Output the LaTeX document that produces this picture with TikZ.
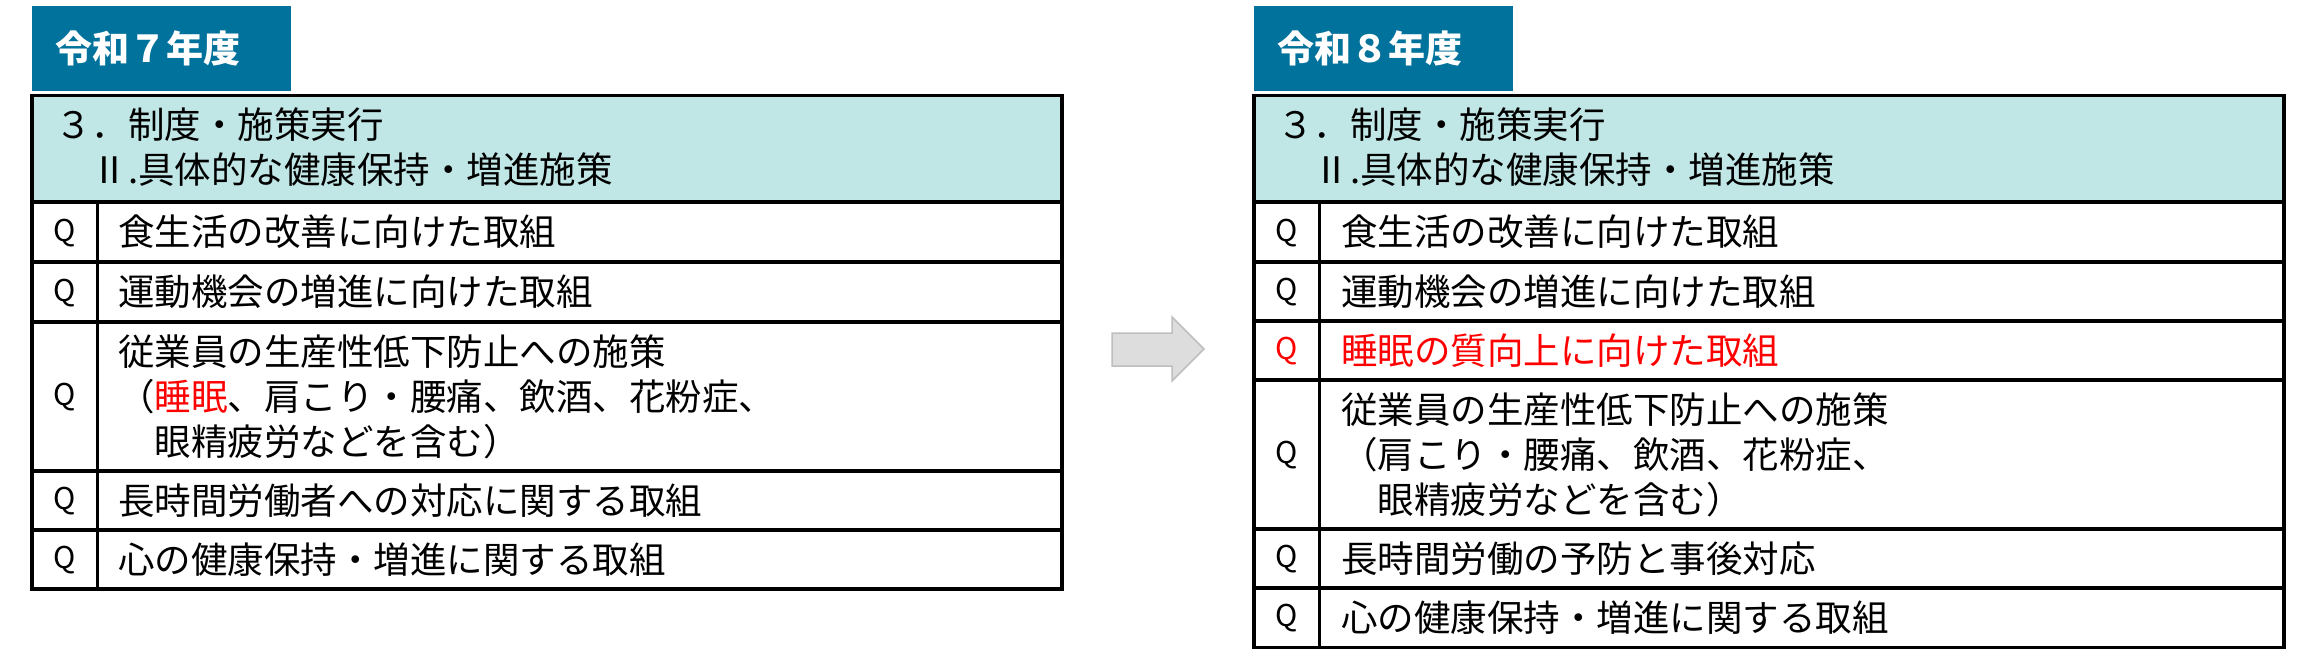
\documentclass[tikz,border=0pt]{standalone}
\usepackage{fontspec}
\setmainfont{Noto Sans CJK JP}
\definecolor{titleblue}{RGB}{0,114,155}
\definecolor{headcyan}{RGB}{192,230,230}
\definecolor{arrowfill}{RGB}{221,221,221}
\definecolor{arrowline}{RGB}{190,190,190}
\definecolor{qred}{RGB}{255,0,0}
\begin{document}
\begin{tikzpicture}[x=1pt,y=-1pt,
 tbl/.style={line width=3.4pt},
 txt/.style={anchor=west,inner sep=0pt,font=\fontsize{36.5}{45}\selectfont,align=left},
 qtxt/.style={inner sep=0pt,font=\fontsize{30}{36}\selectfont},
 titletxt/.style={anchor=west,inner sep=0pt,text=white,font=\fontsize{37}{40}\selectfont\bfseries},
]
\useasboundingbox (0,0) rectangle (2318,666);
% ---------- left table (R7) ----------
\fill[titleblue] (32,6) rectangle (291,91);
\node[titletxt] (t7) at (55,48) {令和７年度};
\fill[headcyan] (32,95.5) rectangle (1062,202);
\draw[tbl] (32,95.5) rectangle (1062,589);
\draw[tbl] (32,202) -- (1062,202);
\foreach \yy in {262,322,471,530} \draw[tbl] (32,\yy) -- (1062,\yy);
\draw[tbl] (97.5,202) -- (97.5,589);
\node[txt] (h7) at (55,147) {３．制度・施策実行\\　Ⅱ.具体的な健康保持・増進施策};
\node[qtxt] (q71) at (65,233) {Q};
\node[txt] (r71) at (118,232) {食生活の改善に向けた取組};
\node[qtxt] (q72) at (65,293) {Q};
\node[txt] (r72) at (118,292) {運動機会の増進に向けた取組};
\node[qtxt] (q73) at (65,397.5) {Q};
\node[txt] (r73) at (118,396.5) {従業員の生産性低下防止への施策\\（\textcolor{qred}{睡眠}、肩こり・腰痛、飲酒、花粉症、\\　眼精疲労などを含む）};
\node[qtxt] (q74) at (65,501.5) {Q};
\node[txt] (r74) at (118,500.5) {長時間労働者への対応に関する取組};
\node[qtxt] (q75) at (65,560.5) {Q};
\node[txt] (r75) at (118,559.5) {心の健康保持・増進に関する取組};
% ---------- arrow ----------
\draw[fill=arrowfill,draw=arrowline,line width=1.5pt,line join=miter]
 (1112,333) -- (1172,333) -- (1172,317) -- (1204,349) -- (1172,381) -- (1172,366) -- (1112,366) -- cycle;
% ---------- right table (R8) ----------
\fill[titleblue] (1254,6) rectangle (1513,91);
\node[titletxt] (t8) at (1277,48) {令和８年度};
\fill[headcyan] (1254,95.5) rectangle (2284,202);
\draw[tbl] (1254,95.5) rectangle (2284,647.5);
\draw[tbl] (1254,202) -- (2284,202);
\foreach \yy in {262,321,380,529,588} \draw[tbl] (1254,\yy) -- (2284,\yy);
\draw[tbl] (1319.5,202) -- (1319.5,647.5);
\node[txt] (h8) at (1277,147) {３．制度・施策実行\\　Ⅱ.具体的な健康保持・増進施策};
\node[qtxt] (q81) at (1287,233) {Q};
\node[txt] (r81) at (1341,232) {食生活の改善に向けた取組};
\node[qtxt] (q82) at (1287,292.5) {Q};
\node[txt] (r82) at (1341,291.5) {運動機会の増進に向けた取組};
\node[qtxt,text=qred] (q83) at (1287,351.5) {Q};
\node[txt,text=qred] (r83) at (1341,350.5) {睡眠の質向上に向けた取組};
\node[qtxt] (q84) at (1287,455.5) {Q};
\node[txt] (r84) at (1341,454.5) {従業員の生産性低下防止への施策\\（肩こり・腰痛、飲酒、花粉症、\\　眼精疲労などを含む）};
\node[qtxt] (q85) at (1287,559.5) {Q};
\node[txt] (r85) at (1341,558.5) {長時間労働の予防と事後対応};
\node[qtxt] (q86) at (1287,618.5) {Q};
\node[txt] (r86) at (1341,617.5) {心の健康保持・増進に関する取組};
\end{tikzpicture}
\end{document}
